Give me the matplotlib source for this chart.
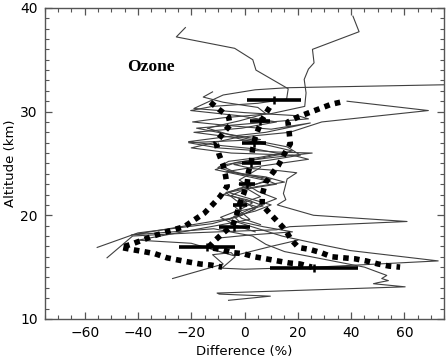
import numpy as np
import matplotlib
matplotlib.use("Agg")
import matplotlib.pyplot as plt
from matplotlib.ticker import MultipleLocator

# mean difference profile (dotted) and +/- one std envelopes
mean_x = [9.4, 7.2, 5.3, 4.0, 3.0, 2.6, 1.5, 1.0, -0.4, -2.0, -3.1, -4.5, -8.0, -11.4,
          -13.6, -8.7, -4.6, -0.5, 3.7, 8.1, 12.4, 16.8, 20.9, 25.3]
mean_y = [30.4, 29.5, 28.4, 27.5, 26.3, 25.2, 24.2, 23.1, 22.0, 21.0, 19.9, 19.0, 18.3, 17.5,
          16.9, 16.7, 16.4, 16.3, 16.0, 15.8, 15.6, 15.4, 15.3, 15.0]

low_x = [-12.8, -9.5, -6.0, -5.4, -8.1, -10.7, -9.6, -8.1, -7.1, -6.5, -9.2, -11.7, -15.1,
         -19.2, -22.6, -26.7, -30.5, -34.3, -38.4, -42.6, -46.3, -42.4, -37.9, -33.7,
         -29.1, -25.2, -21.1, -16.6, -12.6, -8.4]
low_y = [30.9, 30.2, 29.5, 28.7, 27.9, 27.0, 25.9, 24.9, 23.8, 22.8, 21.8, 21.1, 20.2,
         19.5, 18.9, 18.6, 18.3, 18.0, 17.6, 17.2, 16.9, 16.7, 16.5, 16.3,
         15.9, 15.7, 15.5, 15.3, 15.2, 15.0]

high_x = [35.9, 32.5, 28.4, 24.3, 20.2, 16.3, 16.8, 17.2, 14.9, 12.7, 10.3, 7.8, 6.7, 6.6,
          9.4, 12.4, 15.3, 17.4, 20.2, 24.6, 28.7, 32.7, 37.0, 41.5, 45.6, 50.2, 54.3, 58.4]
high_y = [30.9, 30.7, 30.3, 29.9, 29.5, 29.0, 27.9, 26.9, 25.9, 24.8, 24.0, 23.1, 22.0, 21.0,
          20.2, 19.4, 18.6, 17.7, 16.9, 16.7, 16.4, 16.0, 15.9, 15.8, 15.6, 15.3, 15.1, 15.0]

# 2 km binned means with error bars
bin_alt = [31.1, 29.1, 27.0, 25.0, 23.0, 21.0, 18.9, 16.95, 14.9]
bin_mean = [11.0, 5.8, 3.5, 2.5, 1.0, -1.6, -3.8, -14.1, 26.1]
bin_err = [10.2, 3.7, 4.6, 3.6, 3.0, 2.6, 5.9, 10.6, 16.5]

# individual difference profiles (x = difference %, y = altitude km)
profiles = [
    ([-22.2, -25.6, -3.7, 3.1, 4.3, 16.4, 15.8, 5.0, -12.0, -20.2, -2.0, 12.0, -1.0, -19.0,
      -4.0, 8.0, 18.0, 6.0, -6.0, -10.0, -2.0, 10.0, 2.0, -7.0, -3.0, 5.0, -1.0, -12.0,
      -40.0, -55.3],
     [38.1, 37.2, 36.1, 35.0, 34.0, 32.2, 31.2, 30.8, 30.5, 30.1, 29.6, 29.0, 28.4, 28.0,
      27.5, 26.8, 26.2, 25.6, 25.2, 24.6, 24.0, 23.5, 22.8, 22.2, 21.4, 20.8, 20.0, 19.2,
      18.3, 16.9]),
    ([40.7, 43.0, 25.5, 26.1, 24.0, 22.4, 23.1, 22.6, 10.0, -8.0, -19.5, -8.0, 10.0, 24.7,
      8.0, -6.0, -21.0, -8.0, 4.0, 14.0, 2.0, -9.0, -4.0, 6.0, 12.0, 0.0, -5.0, 3.0, -2.0,
      -9.0, -3.0, 4.0],
     [39.2, 37.7, 36.0, 34.7, 34.1, 33.1, 31.8, 30.5, 29.8, 29.4, 29.0, 28.7, 28.3, 28.9,
      28.0, 27.6, 27.1, 26.7, 26.4, 25.9, 25.3, 24.8, 24.2, 23.6, 23.0, 22.5, 21.9, 21.2,
      20.5, 19.8, 19.0, 18.4]),
    ([78.0, 16.0, 4.0, -8.0, -19.0, 0.0, 20.0, 24.0, 5.0, -18.0, -8.0, 6.0, -21.0, -10.0,
      12.0, 25.4, 8.0, -3.0, -11.0, 0.0, 9.0, -2.0, -8.0, 1.0, 7.0, -4.0, -1.0, 6.0],
     [32.6, 32.3, 32.1, 31.6, 30.3, 29.9, 29.6, 29.3, 28.9, 28.4, 27.9, 27.3, 27.0, 26.5,
      26.1, 26.0, 25.5, 25.1, 24.4, 23.8, 23.3, 22.6, 22.0, 21.5, 20.9, 20.3, 19.7, 19.1]),
    ([38.5, 69.0, 29.0, 17.0, -3.0, -20.0, -5.0, 18.0, 24.0, 5.0, -7.0, 8.0, 15.0, 3.0,
      -6.0, 2.0, 10.0, 4.0, -4.0, -2.0, 7.0, 18.0, 2.0, -10.0],
     [31.0, 30.1, 29.0, 28.0, 27.5, 26.5, 26.0, 25.8, 25.4, 24.7, 24.2, 23.7, 23.2, 22.7,
      22.2, 21.6, 21.0, 20.4, 19.9, 19.4, 18.9, 18.4, 18.1, 17.8]),
    ([-12.0, -15.5, -8.0, 5.0, 8.0, -2.0, -14.0, -6.0, 4.0, 16.0, 21.0, 9.0, -4.0, 3.0,
      13.0, 19.6, 16.0, 14.6, 15.5, 12.3, 25.9, 61.0, 17.0, 12.0, 0.0, -20.0, -42.0, -51.6],
     [31.9, 31.4, 30.9, 30.4, 29.8, 29.1, 28.4, 27.8, 27.2, 26.6, 25.8, 25.3, 24.9, 24.5,
      24.3, 24.1, 23.5, 22.1, 21.5, 21.0, 20.0, 19.4, 18.9, 18.6, 18.5, 18.3, 18.0, 15.9]),
    ([6.0, -2.0, 5.0, 12.0, 2.0, -6.0, 4.0, 14.0, 30.0, 39.6, 72.7, 27.0, 0.0, -8.5, -3.5,
      -5.0, -12.0, -8.0, -27.0],
     [24.6, 23.4, 22.3, 21.6, 20.6, 19.6, 18.8, 18.0, 17.1, 16.6, 15.6, 15.0, 14.8, 14.9,
      16.0, 16.4, 16.2, 15.3, 13.9]),
    ([-1.0, 4.0, -3.0, -42.5, -11.6, 3.0, 8.0, 15.0, 35.0, 45.0, 53.4, 51.5, 54.0, 50.0,
      48.4, 60.3, -10.3, -9.5, 9.7, -6.0],
     [21.5, 20.6, 19.8, 18.1, 18.7, 18.0, 17.2, 16.5, 15.5, 15.0, 14.2, 13.9, 13.7, 13.5,
      13.4, 13.1, 12.5, 12.4, 12.2, 11.8]),
    ([-2.0, 6.0, -4.0, 2.0, -40.0, -20.0, -4.0, 10.0, 20.0],
     [23.0, 21.8, 20.9, 19.6, 17.6, 17.3, 16.1, 17.0, 17.6]),
]

fig = plt.figure(figsize=(4.48, 3.58), dpi=100)
ax = fig.add_axes([0.0998, 0.109, 0.892, 0.869])

for px, py in profiles:
    ax.plot(px, py, color="#404040", lw=0.8, zorder=2)

for cx, cy in [(low_x, low_y), (mean_x, mean_y), (high_x, high_y)]:
    ax.plot(cx, cy, color="black", lw=4.0, linestyle=(0, (1, 0.95)),
            dash_capstyle="butt", zorder=3)

ax.errorbar(bin_mean, bin_alt, xerr=bin_err, fmt="|", color="black", ms=6, mew=1.8,
            elinewidth=2.6, capsize=0, zorder=4)

ax.text(-44, 34.3, "Ozone", family="Liberation Serif", fontweight="bold", fontsize=12.5,
        ha="left", va="center")

ax.set_xlim(-75, 75)
ax.set_ylim(10, 40)
ax.xaxis.set_major_locator(MultipleLocator(20))
ax.xaxis.set_minor_locator(MultipleLocator(5))
ax.yaxis.set_major_locator(MultipleLocator(10))
ax.yaxis.set_minor_locator(MultipleLocator(1))
ax.tick_params(which="both", direction="in", top=True, right=True, color="#555555",
               labelsize=10, pad=5)
ax.tick_params(which="major", length=5, width=0.9)
ax.tick_params(which="minor", length=3, width=0.8)
for s in ax.spines.values():
    s.set_color("#555555")
    s.set_linewidth(1.0)

ax.set_xlabel("Difference (%)", fontsize=9.5, labelpad=3.5)
ax.set_ylabel("Altitude (km)", fontsize=9.5, labelpad=2)

fig.savefig("out.png", dpi=100)
